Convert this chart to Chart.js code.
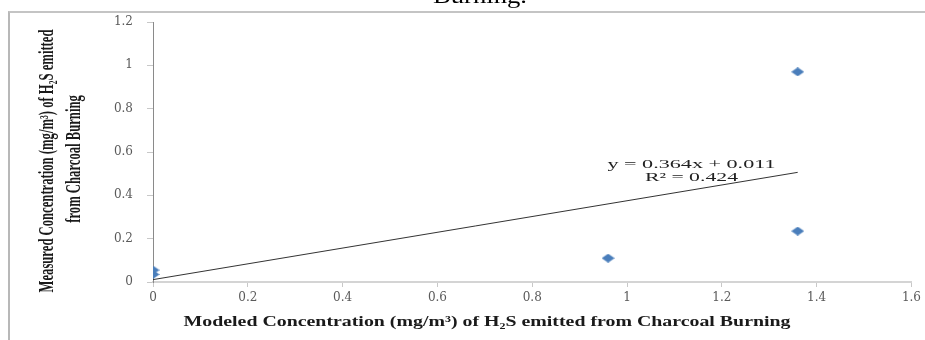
<!DOCTYPE html>
<html>
<head>
<meta charset="utf-8">
<script src="https://cdn.jsdelivr.net/npm/chart.js@4.4.1/dist/chart.umd.min.js"></script>
<style>
  html, body { margin: 0; padding: 0; background: #fff; }
  #wrap { position: relative; width: 925px; height: 340px; overflow: hidden; }
  #frame { position: absolute; left: 8px; top: 11px; width: 930px; height: 340px;
           border-left: 2px solid #b8b8b8; border-top: 2px solid #c4c4c4; }
  canvas { position: absolute; left: 0; top: 0; }
</style>
</head>
<body>
<div id="wrap">
  <div id="frame"></div>
  <canvas id="chart" width="925" height="340"></canvas>
</div>
<script>
// measured vs modeled H2S concentrations (mg/m3)
const modeledX = [0, 0, 0.96, 1.36, 1.36];
const measuredY = [0.035, 0.055, 0.11, 0.97, 0.235];

// linear trendline as given by its label
const trendSlope = 0.364;
const trendIntercept = 0.011;
const trendRange = [0, 1.36];
const trendText = ['y = 0.364x + 0.011', 'R\u00b2 = 0.424'];

const xTicks = [0, 0.2, 0.4, 0.6, 0.8, 1, 1.2, 1.4, 1.6];
const yTicks = [0, 0.2, 0.4, 0.6, 0.8, 1, 1.2];

const xTitle = 'Modeled Concentration (mg/m\u00b3) of H\u2082S emitted from Charcoal Burning';
const yTitle = ['Measured Concentration (mg/m\u00b3) of H\u2082S emitted', 'from Charcoal Burning'];
const captionTail = 'Burning.';

const points = modeledX.map((x, i) => ({ x: x, y: measuredY[i] }));
const trendPoints = trendRange.map(x => ({ x: x, y: trendSlope * x + trendIntercept }));

// flattened diamond marker
function diamond(w, h) {
  const c = document.createElement('canvas');
  c.width = w; c.height = h;
  const g = c.getContext('2d');
  g.beginPath();
  g.moveTo(w / 2, 0); g.lineTo(w, h / 2); g.lineTo(w / 2, h); g.lineTo(0, h / 2);
  g.closePath();
  g.fillStyle = '#4a7ebb';
  g.fill();
  return c;
}

// draw text squeezed/stretched to a given width
function fitText(ctx, text, cx, cy, width, font, color, angle) {
  ctx.save();
  ctx.font = font;
  ctx.fillStyle = color;
  ctx.textAlign = 'center';
  ctx.textBaseline = 'middle';
  const w = ctx.measureText(text).width;
  ctx.translate(cx, cy);
  if (angle) ctx.rotate(angle);
  ctx.scale(width / w, 1);
  ctx.fillText(text, 0, 0);
  ctx.restore();
  return width / w;
}

const textPlugin = {
  id: 'texts',
  afterDraw(chart) {
    const ctx = chart.ctx;
    const xs = chart.scales.x, ys = chart.scales.y;

    // tail of the caption above the frame
    fitText(ctx, captionTail, 480, -3, 94, '22px "Liberation Serif"', '#000');

    // axis titles
    const titleFont = 'bold 20px "Liberation Serif"';
    fitText(ctx, xTitle, 487, 322, 607, 'bold 14px "Liberation Serif"', '#1a1a1a');
    const f = fitText(ctx, yTitle[0], 48, 161, 263, titleFont, '#1a1a1a', -Math.PI / 2);
    ctx.save();
    ctx.font = titleFont;
    const w2 = ctx.measureText(yTitle[1]).width * f;
    ctx.restore();
    fitText(ctx, yTitle[1], 75, 159, w2, titleFont, '#1a1a1a', -Math.PI / 2);

    // trendline equation
    const lx = xs.getPixelForValue(1.136);
    const ly = ys.getPixelForValue(0.54);
    fitText(ctx, trendText[0], lx, ly, 168, '12px "Liberation Serif"', '#222');
    fitText(ctx, trendText[1], lx, ly + 13, 93, '12px "Liberation Serif"', '#222');
  }
};

const tickFont = { family: '"DejaVu Serif"', size: 12 };

new Chart(document.getElementById('chart'), {
  type: 'scatter',
  data: {
    datasets: [
      {
        label: 'Measured',
        data: points,
        pointStyle: diamond(13, 9),
        pointRadius: 5,
        showLine: false
      },
      {
        label: 'Linear',
        type: 'line',
        data: trendPoints,
        borderColor: '#333',
        borderWidth: 1,
        pointRadius: 0,
        fill: false
      }
    ]
  },
  options: {
    responsive: false,
    animation: false,
    devicePixelRatio: 1,
    layout: { padding: { left: 0, right: 8, top: 22, bottom: 0 } },
    plugins: {
      legend: { display: false },
      tooltip: { enabled: false }
    },
    scales: {
      x: {
        type: 'linear',
        min: 0,
        max: 1.6,
        afterBuildTicks: s => { s.ticks = xTicks.map(v => ({ value: v })); },
        afterFit: s => { s.height = 58; },
        ticks: {
          font: tickFont,
          color: '#5a5a5a',
          padding: 4,
          maxRotation: 0,
          callback: v => String(v)
        },
        grid: { drawOnChartArea: false, drawTicks: true, tickLength: 5, color: '#c8c8c8' },
        border: { color: '#d4d4d4', width: 2 }
      },
      y: {
        type: 'linear',
        min: 0,
        max: 1.2,
        afterBuildTicks: s => { s.ticks = yTicks.map(v => ({ value: v })); },
        afterFit: s => { s.width = 153; },
        ticks: {
          font: tickFont,
          color: '#5a5a5a',
          padding: 14,
          callback: v => String(v)
        },
        grid: { drawOnChartArea: false, drawTicks: true, tickLength: 6, color: '#c8c8c8' },
        border: { color: '#8a8a8a', width: 1 }
      }
    }
  },
  plugins: [textPlugin]
});
</script>
</body>
</html>
